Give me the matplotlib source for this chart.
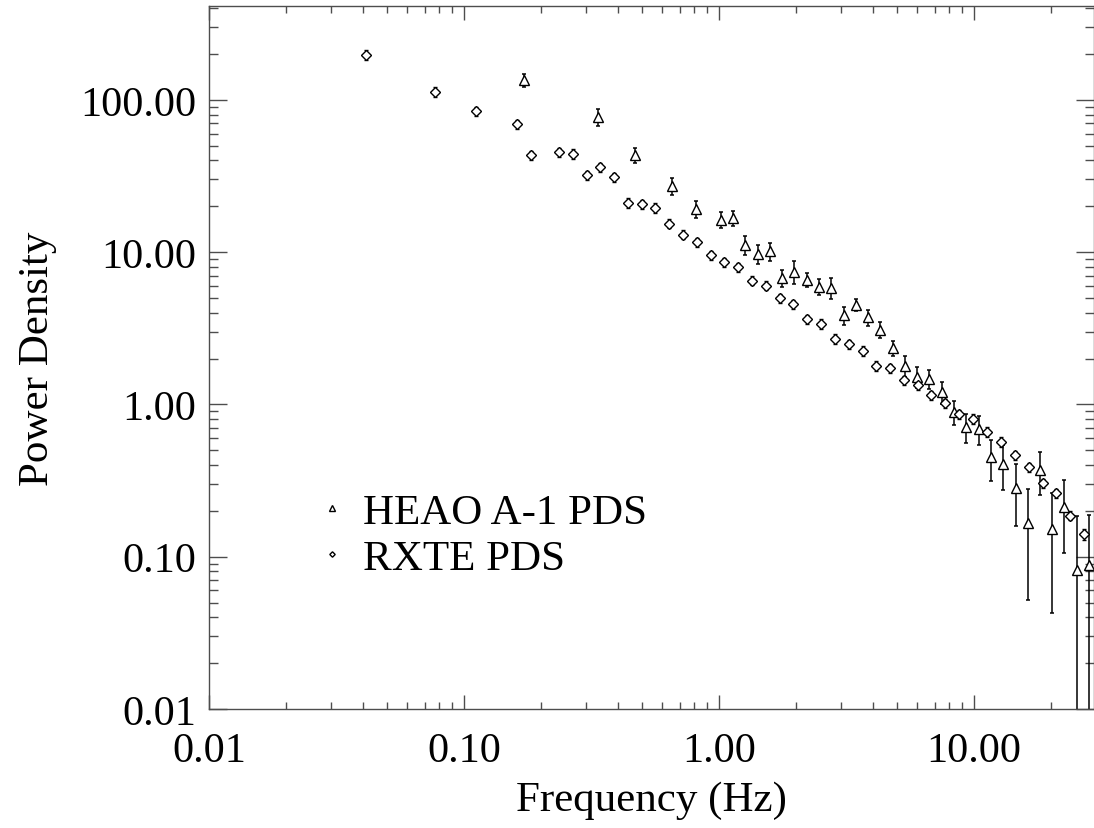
import numpy as np
import matplotlib
matplotlib.use("Agg")
import matplotlib.pyplot as plt
from matplotlib.ticker import FixedLocator, LogLocator, FormatStrFormatter, NullFormatter

plt.rcParams['font.family'] = ['Liberation Serif', 'DejaVu Serif']

# HEAO A-1 power density spectrum
heao_freq = [0.1724, 0.3345, 0.4684, 0.6525, 0.8147, 1.0155, 1.1348, 1.268, 1.418,
             1.585, 1.767, 1.974, 2.208, 2.467, 2.757, 3.083, 3.446, 3.840, 4.292,
             4.800, 5.349, 5.977, 6.678, 7.484, 8.349, 9.329, 10.43, 11.66, 13.03,
             14.57, 16.28, 18.15, 20.28, 22.60, 25.35, 28.33]
heao_pow = [134.9, 76.8, 43.4, 27.3, 19.19, 16.33, 16.67, 11.18, 9.72,
            10.12, 6.76, 7.43, 6.59, 5.93, 5.81, 3.85, 4.51, 3.73, 3.08,
            2.346, 1.796, 1.520, 1.468, 1.200, 0.888, 0.714, 0.690, 0.4495, 0.4062,
            0.2812, 0.1660, 0.3709, 0.1520, 0.2130, 0.0821, 0.0886]
heao_err = [13.5, 10.0, 5.0, 3.5, 2.5, 1.9, 1.9, 1.6, 1.4,
            1.35, 0.9, 1.3, 0.7, 0.73, 0.9, 0.53, 0.4, 0.45, 0.37,
            0.27, 0.29, 0.23, 0.21, 0.20, 0.16, 0.155, 0.15, 0.134, 0.134,
            0.122, 0.114, 0.116, 0.109, 0.107, 0.104, 0.099]

# RXTE power density spectrum
rxte_freq = [0.0413, 0.0768, 0.1115, 0.1618, 0.1831, 0.2351, 0.2669, 0.3029, 0.3415,
             0.3876, 0.4398, 0.4977, 0.5626, 0.6386, 0.7225, 0.8176, 0.9279, 1.049,
             1.191, 1.347, 1.524, 1.730, 1.956, 2.220, 2.512, 2.851, 3.225, 3.660,
             4.139, 4.697, 5.316, 6.015, 6.812, 7.718, 8.734, 9.892, 11.21, 12.76,
             14.44, 16.39, 18.60, 20.97, 23.73, 26.93]
rxte_pow = [197.8, 113.0, 84.0, 69.1, 43.4, 45.2, 44.1, 31.9, 36.1,
            31.1, 21.0, 20.6, 19.5, 15.4, 13.0, 11.65, 9.53, 8.57,
            7.95, 6.49, 6.02, 4.97, 4.54, 3.62, 3.39, 2.69, 2.49, 2.24,
            1.79, 1.73, 1.44, 1.335, 1.149, 1.021, 0.859, 0.804, 0.661, 0.568,
            0.465, 0.386, 0.303, 0.262, 0.186, 0.140]
rxte_err = [14.0, 8.0, 6.0, 5.0, 3.0, 3.2, 3.1, 2.2, 2.5,
            2.2, 1.5, 1.4, 1.4, 1.1, 0.9, 0.8, 0.67, 0.6,
            0.56, 0.45, 0.42, 0.35, 0.32, 0.25, 0.24, 0.19, 0.17, 0.16,
            0.13, 0.12, 0.10, 0.095, 0.08, 0.072, 0.06, 0.056, 0.046, 0.04,
            0.033, 0.027, 0.021, 0.018, 0.013, 0.011]

fig = plt.figure(figsize=(10.94, 8.29), dpi=100)
ax = fig.add_axes([209 / 1094, 1 - 710 / 829, 885 / 1094, 703 / 829])
ax.set_xscale('log')
ax.set_yscale('log')

# lower error can't go below zero on a log axis, so stop the bar just above 0
hp = np.array(heao_pow)
he = np.array(heao_err)
heao_lo = np.minimum(he, hp - 1e-4)
re_ = np.array(rxte_err)

ax.errorbar(heao_freq, heao_pow, yerr=[heao_lo, he], fmt='none', ecolor='black',
            elinewidth=1.1, capsize=1.6, capthick=1.1)
ax.errorbar(rxte_freq, rxte_pow, yerr=[re_, re_], fmt='none', ecolor='black',
            elinewidth=1.0, capsize=1.2, capthick=1.0)
h1, = ax.plot(heao_freq, heao_pow, linestyle='none', marker='^', markersize=7,
              mfc='white', mec='black', mew=1.0, label='HEAO A-1 PDS')
h2, = ax.plot(rxte_freq, rxte_pow, linestyle='none', marker='D', markersize=5,
              mfc='white', mec='black', mew=1.0, label='RXTE PDS')

ax.set_xlim(0.01, 29.55)
ax.set_ylim(0.01, 413)

ax.xaxis.set_major_locator(FixedLocator([0.01, 0.1, 1, 10]))
ax.yaxis.set_major_locator(FixedLocator([0.01, 0.1, 1, 10, 100]))
ax.xaxis.set_major_formatter(FormatStrFormatter('%.2f'))
ax.yaxis.set_major_formatter(FormatStrFormatter('%.2f'))
ax.xaxis.set_minor_locator(LogLocator(base=10, subs=np.arange(2, 10), numticks=20))
ax.yaxis.set_minor_locator(LogLocator(base=10, subs=np.arange(2, 10), numticks=20))
ax.xaxis.set_minor_formatter(NullFormatter())
ax.yaxis.set_minor_formatter(NullFormatter())

spine_col = '0.3'
for s in ax.spines.values():
    s.set_color(spine_col)
    s.set_linewidth(1.0)
ax.tick_params(axis='both', which='both', direction='in', top=True, right=True,
               color=spine_col, width=1.0, labelsize=30.5)
ax.tick_params(axis='x', which='major', length=10, pad=16)
ax.tick_params(axis='x', which='minor', length=5)
ax.tick_params(axis='y', which='major', length=13, pad=9)
ax.tick_params(axis='y', which='minor', length=6.5)

ax.set_xlabel('Frequency (Hz)', fontsize=31, labelpad=8)
ax.set_ylabel('Power Density', fontsize=31, labelpad=17)

ax.legend(handles=[h1, h2], loc='upper left', bbox_to_anchor=(0.1147, 0.308),
          frameon=False, fontsize=31, markerscale=0.55, numpoints=1,
          handlelength=1.0, handletextpad=0.22, labelspacing=0.16,
          borderpad=0, borderaxespad=0)

fig.savefig('out.png', dpi=100)
